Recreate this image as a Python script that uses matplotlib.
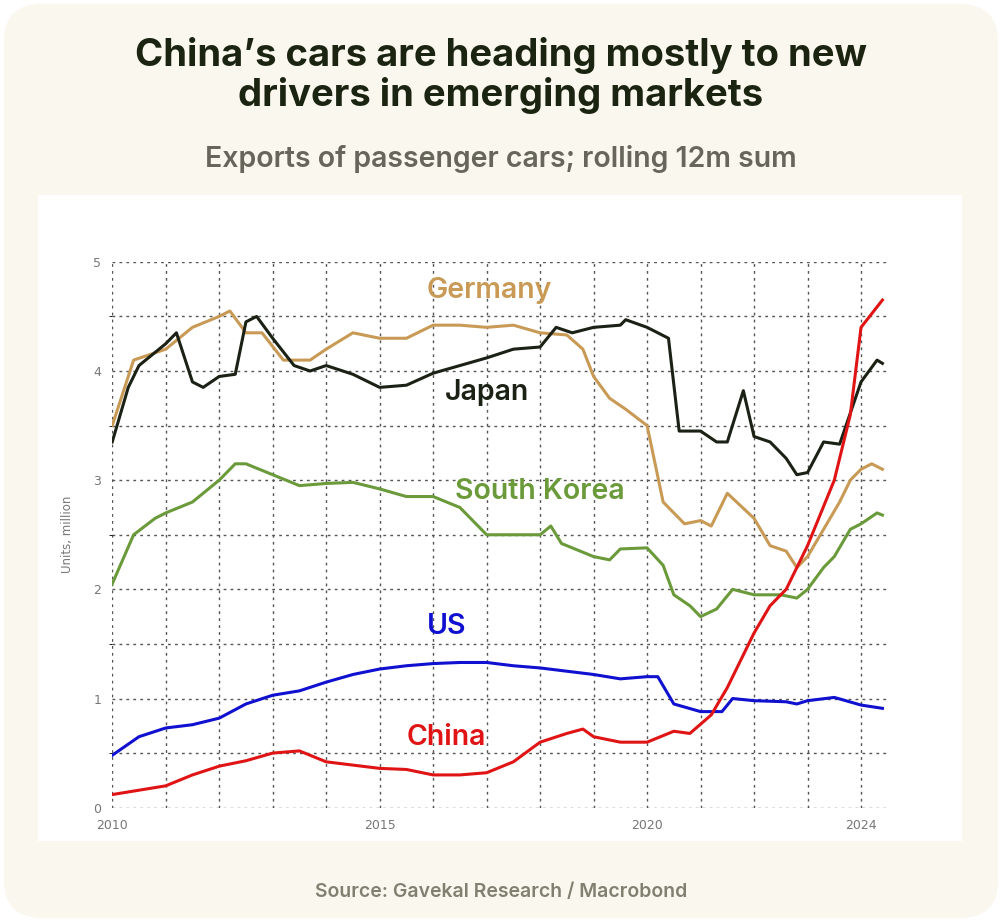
import matplotlib.pyplot as plt
from matplotlib.patches import FancyBboxPatch, Rectangle

germany_x = [2010, 2010.4, 2011, 2011.5, 2012, 2012.2, 2012.5, 2012.8, 2013.2, 2013.7, 2014, 2014.5, 2015, 2015.5, 2016, 2016.5, 2017, 2017.5, 2018, 2018.5, 2018.8, 2019, 2019.3, 2019.6, 2020, 2020.3, 2020.7, 2021, 2021.2, 2021.5, 2022, 2022.3, 2022.6, 2022.8, 2023, 2023.3, 2023.6, 2023.8, 2024, 2024.2, 2024.4]
germany_y = [3.5, 4.1, 4.2, 4.4, 4.5, 4.55, 4.35, 4.35, 4.1, 4.1, 4.2, 4.35, 4.3, 4.3, 4.42, 4.42, 4.4, 4.42, 4.35, 4.33, 4.2, 3.95, 3.75, 3.65, 3.5, 2.8, 2.6, 2.63, 2.58, 2.88, 2.65, 2.4, 2.35, 2.2, 2.3, 2.55, 2.8, 3.0, 3.1, 3.15, 3.1]

japan_x = [2010, 2010.3, 2010.5, 2011, 2011.2, 2011.5, 2011.7, 2012, 2012.3, 2012.5, 2012.7, 2013, 2013.4, 2013.7, 2014, 2014.5, 2015, 2015.5, 2016, 2016.5, 2017, 2017.5, 2018, 2018.3, 2018.6, 2019, 2019.5, 2019.6, 2020, 2020.4, 2020.6, 2021, 2021.3, 2021.5, 2021.8, 2022, 2022.3, 2022.6, 2022.8, 2023, 2023.3, 2023.6, 2024, 2024.3, 2024.4]
japan_y = [3.35, 3.85, 4.05, 4.25, 4.35, 3.9, 3.85, 3.95, 3.97, 4.45, 4.5, 4.3, 4.05, 4.0, 4.05, 3.97, 3.85, 3.87, 3.98, 4.05, 4.12, 4.2, 4.22, 4.4, 4.35, 4.4, 4.42, 4.47, 4.4, 4.3, 3.45, 3.45, 3.35, 3.35, 3.82, 3.4, 3.35, 3.2, 3.05, 3.07, 3.35, 3.33, 3.9, 4.1, 4.07]

korea_x = [2010, 2010.4, 2010.8, 2011, 2011.5, 2012, 2012.3, 2012.5, 2013, 2013.5, 2014, 2014.5, 2015, 2015.5, 2016, 2016.5, 2017, 2017.5, 2018, 2018.2, 2018.4, 2019, 2019.3, 2019.5, 2020, 2020.3, 2020.5, 2020.8, 2021, 2021.3, 2021.6, 2022, 2022.5, 2022.8, 2023, 2023.3, 2023.5, 2023.8, 2024, 2024.3, 2024.4]
korea_y = [2.05, 2.5, 2.65, 2.7, 2.8, 3.0, 3.15, 3.15, 3.05, 2.95, 2.97, 2.98, 2.92, 2.85, 2.85, 2.75, 2.5, 2.5, 2.5, 2.58, 2.42, 2.3, 2.27, 2.37, 2.38, 2.22, 1.95, 1.85, 1.75, 1.82, 2.0, 1.95, 1.95, 1.92, 2.0, 2.2, 2.3, 2.55, 2.6, 2.7, 2.68]

us_x = [2010, 2010.5, 2011, 2011.5, 2012, 2012.5, 2013, 2013.5, 2014, 2014.5, 2015, 2015.5, 2016, 2016.5, 2017, 2017.5, 2018, 2018.5, 2019, 2019.5, 2020, 2020.2, 2020.5, 2021, 2021.4, 2021.6, 2022, 2022.6, 2022.8, 2023, 2023.5, 2024, 2024.4]
us_y = [0.48, 0.65, 0.73, 0.76, 0.82, 0.95, 1.03, 1.07, 1.15, 1.22, 1.27, 1.3, 1.32, 1.33, 1.33, 1.3, 1.28, 1.25, 1.22, 1.18, 1.2, 1.2, 0.95, 0.88, 0.88, 1.0, 0.98, 0.97, 0.95, 0.98, 1.01, 0.94, 0.91]

china_x = [2010, 2011, 2011.5, 2012, 2012.5, 2013, 2013.5, 2014, 2014.5, 2015, 2015.5, 2016, 2016.5, 2017, 2017.5, 2018, 2018.5, 2018.8, 2019, 2019.5, 2020, 2020.5, 2020.8, 2021.2, 2021.5, 2022, 2022.3, 2022.6, 2023, 2023.5, 2023.8, 2024, 2024.4]
china_y = [0.12, 0.2, 0.3, 0.38, 0.43, 0.5, 0.52, 0.42, 0.39, 0.36, 0.35, 0.3, 0.3, 0.32, 0.42, 0.6, 0.68, 0.72, 0.65, 0.6, 0.6, 0.7, 0.68, 0.85, 1.1, 1.6, 1.85, 2.0, 2.4, 3.0, 3.6, 4.4, 4.65]

series = [
    ("Germany", germany_x, germany_y, "#C89A55", (2017.05, 4.74)),
    ("Japan", japan_x, japan_y, "#1B2114", (2017.0, 3.8)),
    ("South Korea", korea_x, korea_y, "#6A9A3A", (2018.0, 2.9)),
    ("US", us_x, us_y, "#1010D0", (2016.25, 1.66)),
    ("China", china_x, china_y, "#E01414", (2016.25, 0.64)),
]

fig = plt.figure(figsize=(10.02, 9.22), dpi=100)
fig.patch.set_facecolor("white")
fig.patches.append(FancyBboxPatch((0.004, 0.004), 0.992, 0.992, boxstyle="round,pad=0,rounding_size=0.04",
                                  transform=fig.transFigure, facecolor="#FAF7EE", edgecolor="none", zorder=-2))
fig.patches.append(Rectangle((0.038, 0.088), 0.922, 0.70, transform=fig.transFigure,
                             facecolor="white", edgecolor="none", zorder=-1))

fig.text(0.5, 0.96, "China’s cars are heading mostly to new\ndrivers in emerging markets", ha="center", va="top",
         fontsize=27.5, fontweight="bold", color="#1B2410", family="Inter", linespacing=1.1)
fig.text(0.5, 0.828, "Exports of passenger cars; rolling 12m sum", ha="center", va="center",
         fontsize=20.5, fontweight="semibold", color="#66665A", family="Inter")
fig.text(0.5, 0.033, "Source: Gavekal Research / Macrobond", ha="center", va="center",
         fontsize=14, fontweight="semibold", color="#808070", family="Inter")

ax = fig.add_axes([0.112, 0.124, 0.774, 0.592])
ax.set_facecolor("white")
for name, xs, ys, c, (lx, ly) in series:
    ax.plot(xs, ys, color=c, lw=2.2, zorder=3)
    ax.text(lx, ly, name, color=c, fontsize=20.5, fontweight="semibold", family="Inter", ha="center", va="center", zorder=4)

ax.set_xlim(2010, 2024.5)
ax.set_ylim(0, 5)
ax.set_xticks(range(2010, 2025))
ax.set_xticklabels([str(y) if y in (2010, 2015, 2020, 2024) else "" for y in range(2010, 2025)])
ax.set_yticks([0, 1, 2, 3, 4, 5])
ax.set_yticks([0.5, 1.5, 2.5, 3.5, 4.5], minor=True)
ax.grid(True, which="both", color="#555555", ls=(0, (2, 3)), lw=1)
ax.tick_params(length=0, labelsize=9, colors="#777777", pad=8)
for sp in ax.spines.values():
    sp.set_visible(False)
ax.set_ylabel("Units, million", fontsize=8.5, color="#777777", labelpad=14)

fig.savefig("out.png", dpi=100)
